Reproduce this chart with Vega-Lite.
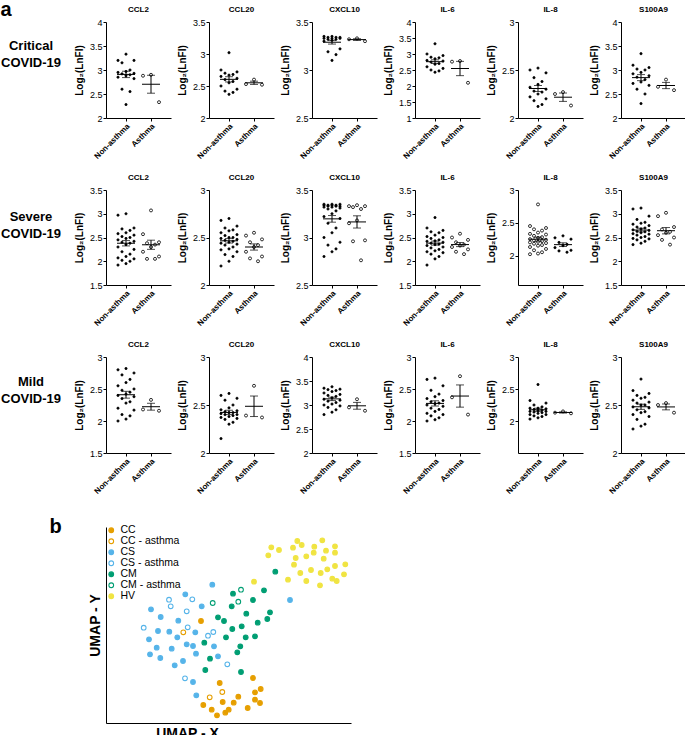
{
"$schema": "https://vega.github.io/schema/vega-lite/v6.json",
"padding": {"left": 0, "top": 0, "right": 0, "bottom": 0},
"datasets": {
"d": [
{"s":"C","c":"CCL2","g":"N","v":3.33},{"s":"C","c":"CCL2","g":"N","v":3.2},{"s":"C","c":"CCL2","g":"N","v":3.2},{"s":"C","c":"CCL2","g":"N","v":3.15},{"s":"C","c":"CCL2","g":"N","v":3.0},{"s":"C","c":"CCL2","g":"N","v":2.97},{"s":"C","c":"CCL2","g":"N","v":2.95},{"s":"C","c":"CCL2","g":"N","v":2.93},{"s":"C","c":"CCL2","g":"N","v":2.92},{"s":"C","c":"CCL2","g":"N","v":2.9},{"s":"C","c":"CCL2","g":"N","v":2.88},{"s":"C","c":"CCL2","g":"N","v":2.85},{"s":"C","c":"CCL2","g":"N","v":2.82},{"s":"C","c":"CCL2","g":"N","v":2.6},{"s":"C","c":"CCL2","g":"N","v":2.55},{"s":"C","c":"CCL2","g":"N","v":2.28},
{"s":"C","c":"CCL2","g":"A","v":2.9},{"s":"C","c":"CCL2","g":"A","v":2.88},{"s":"C","c":"CCL2","g":"A","v":2.33},
{"s":"C","c":"CCL20","g":"N","v":3.02},{"s":"C","c":"CCL20","g":"N","v":2.75},{"s":"C","c":"CCL20","g":"N","v":2.72},{"s":"C","c":"CCL20","g":"N","v":2.7},{"s":"C","c":"CCL20","g":"N","v":2.68},{"s":"C","c":"CCL20","g":"N","v":2.67},{"s":"C","c":"CCL20","g":"N","v":2.65},{"s":"C","c":"CCL20","g":"N","v":2.62},{"s":"C","c":"CCL20","g":"N","v":2.6},{"s":"C","c":"CCL20","g":"N","v":2.57},{"s":"C","c":"CCL20","g":"N","v":2.55},{"s":"C","c":"CCL20","g":"N","v":2.5},{"s":"C","c":"CCL20","g":"N","v":2.45},{"s":"C","c":"CCL20","g":"N","v":2.42},{"s":"C","c":"CCL20","g":"N","v":2.4},{"s":"C","c":"CCL20","g":"N","v":2.37},
{"s":"C","c":"CCL20","g":"A","v":2.6},{"s":"C","c":"CCL20","g":"A","v":2.53},{"s":"C","c":"CCL20","g":"A","v":2.52},
{"s":"C","c":"CXCL10","g":"N","v":3.35},{"s":"C","c":"CXCL10","g":"N","v":3.35},{"s":"C","c":"CXCL10","g":"N","v":3.34},{"s":"C","c":"CXCL10","g":"N","v":3.34},{"s":"C","c":"CXCL10","g":"N","v":3.34},{"s":"C","c":"CXCL10","g":"N","v":3.33},{"s":"C","c":"CXCL10","g":"N","v":3.33},{"s":"C","c":"CXCL10","g":"N","v":3.33},{"s":"C","c":"CXCL10","g":"N","v":3.32},{"s":"C","c":"CXCL10","g":"N","v":3.32},{"s":"C","c":"CXCL10","g":"N","v":3.31},{"s":"C","c":"CXCL10","g":"N","v":3.3},{"s":"C","c":"CXCL10","g":"N","v":3.22},{"s":"C","c":"CXCL10","g":"N","v":3.19},{"s":"C","c":"CXCL10","g":"N","v":3.16},{"s":"C","c":"CXCL10","g":"N","v":3.1},
{"s":"C","c":"CXCL10","g":"A","v":3.33},{"s":"C","c":"CXCL10","g":"A","v":3.32},{"s":"C","c":"CXCL10","g":"A","v":3.3},
{"s":"C","c":"IL-6","g":"N","v":3.32},{"s":"C","c":"IL-6","g":"N","v":3.0},{"s":"C","c":"IL-6","g":"N","v":2.95},{"s":"C","c":"IL-6","g":"N","v":2.9},{"s":"C","c":"IL-6","g":"N","v":2.88},{"s":"C","c":"IL-6","g":"N","v":2.85},{"s":"C","c":"IL-6","g":"N","v":2.8},{"s":"C","c":"IL-6","g":"N","v":2.78},{"s":"C","c":"IL-6","g":"N","v":2.75},{"s":"C","c":"IL-6","g":"N","v":2.7},{"s":"C","c":"IL-6","g":"N","v":2.68},{"s":"C","c":"IL-6","g":"N","v":2.6},{"s":"C","c":"IL-6","g":"N","v":2.55},{"s":"C","c":"IL-6","g":"N","v":2.5},{"s":"C","c":"IL-6","g":"N","v":2.47},{"s":"C","c":"IL-6","g":"N","v":2.43},
{"s":"C","c":"IL-6","g":"A","v":2.78},{"s":"C","c":"IL-6","g":"A","v":2.76},{"s":"C","c":"IL-6","g":"A","v":2.1},
{"s":"C","c":"IL-8","g":"N","v":2.52},{"s":"C","c":"IL-8","g":"N","v":2.5},{"s":"C","c":"IL-8","g":"N","v":2.47},{"s":"C","c":"IL-8","g":"N","v":2.42},{"s":"C","c":"IL-8","g":"N","v":2.38},{"s":"C","c":"IL-8","g":"N","v":2.35},{"s":"C","c":"IL-8","g":"N","v":2.32},{"s":"C","c":"IL-8","g":"N","v":2.3},{"s":"C","c":"IL-8","g":"N","v":2.28},{"s":"C","c":"IL-8","g":"N","v":2.27},{"s":"C","c":"IL-8","g":"N","v":2.25},{"s":"C","c":"IL-8","g":"N","v":2.22},{"s":"C","c":"IL-8","g":"N","v":2.2},{"s":"C","c":"IL-8","g":"N","v":2.18},{"s":"C","c":"IL-8","g":"N","v":2.14},{"s":"C","c":"IL-8","g":"N","v":2.12},
{"s":"C","c":"IL-8","g":"A","v":2.27},{"s":"C","c":"IL-8","g":"A","v":2.25},{"s":"C","c":"IL-8","g":"A","v":2.13},
{"s":"C","c":"S100A9","g":"N","v":3.34},{"s":"C","c":"S100A9","g":"N","v":3.1},{"s":"C","c":"S100A9","g":"N","v":3.05},{"s":"C","c":"S100A9","g":"N","v":3.02},{"s":"C","c":"S100A9","g":"N","v":3.0},{"s":"C","c":"S100A9","g":"N","v":2.95},{"s":"C","c":"S100A9","g":"N","v":2.92},{"s":"C","c":"S100A9","g":"N","v":2.88},{"s":"C","c":"S100A9","g":"N","v":2.85},{"s":"C","c":"S100A9","g":"N","v":2.8},{"s":"C","c":"S100A9","g":"N","v":2.75},{"s":"C","c":"S100A9","g":"N","v":2.72},{"s":"C","c":"S100A9","g":"N","v":2.68},{"s":"C","c":"S100A9","g":"N","v":2.6},{"s":"C","c":"S100A9","g":"N","v":2.5},{"s":"C","c":"S100A9","g":"N","v":2.3},
{"s":"C","c":"S100A9","g":"A","v":2.8},{"s":"C","c":"S100A9","g":"A","v":2.65},{"s":"C","c":"S100A9","g":"A","v":2.58},

{"s":"S","c":"CCL2","g":"N","v":3.0},{"s":"S","c":"CCL2","g":"N","v":2.97},{"s":"S","c":"CCL2","g":"N","v":2.7},{"s":"S","c":"CCL2","g":"N","v":2.68},{"s":"S","c":"CCL2","g":"N","v":2.65},{"s":"S","c":"CCL2","g":"N","v":2.6},{"s":"S","c":"CCL2","g":"N","v":2.58},{"s":"S","c":"CCL2","g":"N","v":2.55},{"s":"S","c":"CCL2","g":"N","v":2.52},{"s":"S","c":"CCL2","g":"N","v":2.5},{"s":"S","c":"CCL2","g":"N","v":2.48},{"s":"S","c":"CCL2","g":"N","v":2.45},{"s":"S","c":"CCL2","g":"N","v":2.42},{"s":"S","c":"CCL2","g":"N","v":2.4},{"s":"S","c":"CCL2","g":"N","v":2.38},{"s":"S","c":"CCL2","g":"N","v":2.35},{"s":"S","c":"CCL2","g":"N","v":2.3},{"s":"S","c":"CCL2","g":"N","v":2.25},{"s":"S","c":"CCL2","g":"N","v":2.2},{"s":"S","c":"CCL2","g":"N","v":2.15},{"s":"S","c":"CCL2","g":"N","v":2.1},{"s":"S","c":"CCL2","g":"N","v":2.07},{"s":"S","c":"CCL2","g":"N","v":2.05},{"s":"S","c":"CCL2","g":"N","v":2.02},{"s":"S","c":"CCL2","g":"N","v":2.0},{"s":"S","c":"CCL2","g":"N","v":1.95},{"s":"S","c":"CCL2","g":"N","v":1.92},
{"s":"S","c":"CCL2","g":"A","v":3.07},{"s":"S","c":"CCL2","g":"A","v":2.57},{"s":"S","c":"CCL2","g":"A","v":2.4},{"s":"S","c":"CCL2","g":"A","v":2.38},{"s":"S","c":"CCL2","g":"A","v":2.35},{"s":"S","c":"CCL2","g":"A","v":2.3},{"s":"S","c":"CCL2","g":"A","v":2.2},{"s":"S","c":"CCL2","g":"A","v":2.1},{"s":"S","c":"CCL2","g":"A","v":2.05},{"s":"S","c":"CCL2","g":"A","v":2.05},
{"s":"S","c":"CCL20","g":"N","v":2.7},{"s":"S","c":"CCL20","g":"N","v":2.68},{"s":"S","c":"CCL20","g":"N","v":2.62},{"s":"S","c":"CCL20","g":"N","v":2.6},{"s":"S","c":"CCL20","g":"N","v":2.58},{"s":"S","c":"CCL20","g":"N","v":2.57},{"s":"S","c":"CCL20","g":"N","v":2.55},{"s":"S","c":"CCL20","g":"N","v":2.53},{"s":"S","c":"CCL20","g":"N","v":2.52},{"s":"S","c":"CCL20","g":"N","v":2.5},{"s":"S","c":"CCL20","g":"N","v":2.5},{"s":"S","c":"CCL20","g":"N","v":2.49},{"s":"S","c":"CCL20","g":"N","v":2.48},{"s":"S","c":"CCL20","g":"N","v":2.47},{"s":"S","c":"CCL20","g":"N","v":2.46},{"s":"S","c":"CCL20","g":"N","v":2.45},{"s":"S","c":"CCL20","g":"N","v":2.44},{"s":"S","c":"CCL20","g":"N","v":2.43},{"s":"S","c":"CCL20","g":"N","v":2.42},{"s":"S","c":"CCL20","g":"N","v":2.4},{"s":"S","c":"CCL20","g":"N","v":2.38},{"s":"S","c":"CCL20","g":"N","v":2.37},{"s":"S","c":"CCL20","g":"N","v":2.35},{"s":"S","c":"CCL20","g":"N","v":2.32},{"s":"S","c":"CCL20","g":"N","v":2.3},{"s":"S","c":"CCL20","g":"N","v":2.25},{"s":"S","c":"CCL20","g":"N","v":2.2},
{"s":"S","c":"CCL20","g":"A","v":2.55},{"s":"S","c":"CCL20","g":"A","v":2.52},{"s":"S","c":"CCL20","g":"A","v":2.48},{"s":"S","c":"CCL20","g":"A","v":2.45},{"s":"S","c":"CCL20","g":"A","v":2.42},{"s":"S","c":"CCL20","g":"A","v":2.4},{"s":"S","c":"CCL20","g":"A","v":2.35},{"s":"S","c":"CCL20","g":"A","v":2.3},{"s":"S","c":"CCL20","g":"A","v":2.28},{"s":"S","c":"CCL20","g":"A","v":2.25},
{"s":"S","c":"CXCL10","g":"N","v":3.35},{"s":"S","c":"CXCL10","g":"N","v":3.35},{"s":"S","c":"CXCL10","g":"N","v":3.35},{"s":"S","c":"CXCL10","g":"N","v":3.34},{"s":"S","c":"CXCL10","g":"N","v":3.34},{"s":"S","c":"CXCL10","g":"N","v":3.34},{"s":"S","c":"CXCL10","g":"N","v":3.34},{"s":"S","c":"CXCL10","g":"N","v":3.33},{"s":"S","c":"CXCL10","g":"N","v":3.33},{"s":"S","c":"CXCL10","g":"N","v":3.33},{"s":"S","c":"CXCL10","g":"N","v":3.32},{"s":"S","c":"CXCL10","g":"N","v":3.32},{"s":"S","c":"CXCL10","g":"N","v":3.31},{"s":"S","c":"CXCL10","g":"N","v":3.3},{"s":"S","c":"CXCL10","g":"N","v":3.28},{"s":"S","c":"CXCL10","g":"N","v":3.25},{"s":"S","c":"CXCL10","g":"N","v":3.22},{"s":"S","c":"CXCL10","g":"N","v":3.2},{"s":"S","c":"CXCL10","g":"N","v":3.15},{"s":"S","c":"CXCL10","g":"N","v":3.1},{"s":"S","c":"CXCL10","g":"N","v":3.05},{"s":"S","c":"CXCL10","g":"N","v":3.0},{"s":"S","c":"CXCL10","g":"N","v":2.95},{"s":"S","c":"CXCL10","g":"N","v":2.92},{"s":"S","c":"CXCL10","g":"N","v":2.88},{"s":"S","c":"CXCL10","g":"N","v":2.85},{"s":"S","c":"CXCL10","g":"N","v":2.8},
{"s":"S","c":"CXCL10","g":"A","v":3.34},{"s":"S","c":"CXCL10","g":"A","v":3.33},{"s":"S","c":"CXCL10","g":"A","v":3.33},{"s":"S","c":"CXCL10","g":"A","v":3.32},{"s":"S","c":"CXCL10","g":"A","v":3.3},{"s":"S","c":"CXCL10","g":"A","v":3.18},{"s":"S","c":"CXCL10","g":"A","v":3.15},{"s":"S","c":"CXCL10","g":"A","v":2.97},{"s":"S","c":"CXCL10","g":"A","v":2.96},{"s":"S","c":"CXCL10","g":"A","v":2.76},
{"s":"S","c":"IL-6","g":"N","v":2.92},{"s":"S","c":"IL-6","g":"N","v":2.7},{"s":"S","c":"IL-6","g":"N","v":2.65},{"s":"S","c":"IL-6","g":"N","v":2.62},{"s":"S","c":"IL-6","g":"N","v":2.6},{"s":"S","c":"IL-6","g":"N","v":2.55},{"s":"S","c":"IL-6","g":"N","v":2.52},{"s":"S","c":"IL-6","g":"N","v":2.5},{"s":"S","c":"IL-6","g":"N","v":2.48},{"s":"S","c":"IL-6","g":"N","v":2.45},{"s":"S","c":"IL-6","g":"N","v":2.43},{"s":"S","c":"IL-6","g":"N","v":2.42},{"s":"S","c":"IL-6","g":"N","v":2.4},{"s":"S","c":"IL-6","g":"N","v":2.38},{"s":"S","c":"IL-6","g":"N","v":2.36},{"s":"S","c":"IL-6","g":"N","v":2.35},{"s":"S","c":"IL-6","g":"N","v":2.33},{"s":"S","c":"IL-6","g":"N","v":2.3},{"s":"S","c":"IL-6","g":"N","v":2.28},{"s":"S","c":"IL-6","g":"N","v":2.25},{"s":"S","c":"IL-6","g":"N","v":2.22},{"s":"S","c":"IL-6","g":"N","v":2.2},{"s":"S","c":"IL-6","g":"N","v":2.18},{"s":"S","c":"IL-6","g":"N","v":2.15},{"s":"S","c":"IL-6","g":"N","v":2.1},{"s":"S","c":"IL-6","g":"N","v":2.05},{"s":"S","c":"IL-6","g":"N","v":1.92},
{"s":"S","c":"IL-6","g":"A","v":2.58},{"s":"S","c":"IL-6","g":"A","v":2.5},{"s":"S","c":"IL-6","g":"A","v":2.45},{"s":"S","c":"IL-6","g":"A","v":2.4},{"s":"S","c":"IL-6","g":"A","v":2.35},{"s":"S","c":"IL-6","g":"A","v":2.33},{"s":"S","c":"IL-6","g":"A","v":2.3},{"s":"S","c":"IL-6","g":"A","v":2.25},{"s":"S","c":"IL-6","g":"A","v":2.2},{"s":"S","c":"IL-6","g":"A","v":2.15},
{"s":"S","c":"IL-8","g":"N","v":2.78},{"s":"S","c":"IL-8","g":"N","v":2.45},{"s":"S","c":"IL-8","g":"N","v":2.42},{"s":"S","c":"IL-8","g":"N","v":2.4},{"s":"S","c":"IL-8","g":"N","v":2.38},{"s":"S","c":"IL-8","g":"N","v":2.35},{"s":"S","c":"IL-8","g":"N","v":2.33},{"s":"S","c":"IL-8","g":"N","v":2.32},{"s":"S","c":"IL-8","g":"N","v":2.3},{"s":"S","c":"IL-8","g":"N","v":2.28},{"s":"S","c":"IL-8","g":"N","v":2.27},{"s":"S","c":"IL-8","g":"N","v":2.25},{"s":"S","c":"IL-8","g":"N","v":2.24},{"s":"S","c":"IL-8","g":"N","v":2.23},{"s":"S","c":"IL-8","g":"N","v":2.22},{"s":"S","c":"IL-8","g":"N","v":2.21},{"s":"S","c":"IL-8","g":"N","v":2.2},{"s":"S","c":"IL-8","g":"N","v":2.19},{"s":"S","c":"IL-8","g":"N","v":2.18},{"s":"S","c":"IL-8","g":"N","v":2.16},{"s":"S","c":"IL-8","g":"N","v":2.15},{"s":"S","c":"IL-8","g":"N","v":2.13},{"s":"S","c":"IL-8","g":"N","v":2.1},{"s":"S","c":"IL-8","g":"N","v":2.08},{"s":"S","c":"IL-8","g":"N","v":2.05},{"s":"S","c":"IL-8","g":"N","v":2.03},{"s":"S","c":"IL-8","g":"N","v":2.02},
{"s":"S","c":"IL-8","g":"A","v":2.3},{"s":"S","c":"IL-8","g":"A","v":2.27},{"s":"S","c":"IL-8","g":"A","v":2.25},{"s":"S","c":"IL-8","g":"A","v":2.2},{"s":"S","c":"IL-8","g":"A","v":2.17},{"s":"S","c":"IL-8","g":"A","v":2.15},{"s":"S","c":"IL-8","g":"A","v":2.12},{"s":"S","c":"IL-8","g":"A","v":2.08},{"s":"S","c":"IL-8","g":"A","v":2.07},{"s":"S","c":"IL-8","g":"A","v":2.05},
{"s":"S","c":"S100A9","g":"N","v":3.12},{"s":"S","c":"S100A9","g":"N","v":3.1},{"s":"S","c":"S100A9","g":"N","v":2.95},{"s":"S","c":"S100A9","g":"N","v":2.88},{"s":"S","c":"S100A9","g":"N","v":2.82},{"s":"S","c":"S100A9","g":"N","v":2.8},{"s":"S","c":"S100A9","g":"N","v":2.78},{"s":"S","c":"S100A9","g":"N","v":2.75},{"s":"S","c":"S100A9","g":"N","v":2.72},{"s":"S","c":"S100A9","g":"N","v":2.7},{"s":"S","c":"S100A9","g":"N","v":2.68},{"s":"S","c":"S100A9","g":"N","v":2.66},{"s":"S","c":"S100A9","g":"N","v":2.65},{"s":"S","c":"S100A9","g":"N","v":2.63},{"s":"S","c":"S100A9","g":"N","v":2.62},{"s":"S","c":"S100A9","g":"N","v":2.6},{"s":"S","c":"S100A9","g":"N","v":2.58},{"s":"S","c":"S100A9","g":"N","v":2.57},{"s":"S","c":"S100A9","g":"N","v":2.55},{"s":"S","c":"S100A9","g":"N","v":2.52},{"s":"S","c":"S100A9","g":"N","v":2.5},{"s":"S","c":"S100A9","g":"N","v":2.48},{"s":"S","c":"S100A9","g":"N","v":2.47},{"s":"S","c":"S100A9","g":"N","v":2.45},{"s":"S","c":"S100A9","g":"N","v":2.42},{"s":"S","c":"S100A9","g":"N","v":2.38},{"s":"S","c":"S100A9","g":"N","v":2.35},
{"s":"S","c":"S100A9","g":"A","v":3.02},{"s":"S","c":"S100A9","g":"A","v":2.95},{"s":"S","c":"S100A9","g":"A","v":2.72},{"s":"S","c":"S100A9","g":"A","v":2.67},{"s":"S","c":"S100A9","g":"A","v":2.62},{"s":"S","c":"S100A9","g":"A","v":2.6},{"s":"S","c":"S100A9","g":"A","v":2.55},{"s":"S","c":"S100A9","g":"A","v":2.5},{"s":"S","c":"S100A9","g":"A","v":2.45},{"s":"S","c":"S100A9","g":"A","v":2.35},

{"s":"M","c":"CCL2","g":"N","v":2.82},{"s":"M","c":"CCL2","g":"N","v":2.8},{"s":"M","c":"CCL2","g":"N","v":2.75},{"s":"M","c":"CCL2","g":"N","v":2.72},{"s":"M","c":"CCL2","g":"N","v":2.65},{"s":"M","c":"CCL2","g":"N","v":2.6},{"s":"M","c":"CCL2","g":"N","v":2.55},{"s":"M","c":"CCL2","g":"N","v":2.5},{"s":"M","c":"CCL2","g":"N","v":2.48},{"s":"M","c":"CCL2","g":"N","v":2.45},{"s":"M","c":"CCL2","g":"N","v":2.42},{"s":"M","c":"CCL2","g":"N","v":2.4},{"s":"M","c":"CCL2","g":"N","v":2.38},{"s":"M","c":"CCL2","g":"N","v":2.35},{"s":"M","c":"CCL2","g":"N","v":2.3},{"s":"M","c":"CCL2","g":"N","v":2.28},{"s":"M","c":"CCL2","g":"N","v":2.2},{"s":"M","c":"CCL2","g":"N","v":2.17},{"s":"M","c":"CCL2","g":"N","v":2.1},{"s":"M","c":"CCL2","g":"N","v":2.08},{"s":"M","c":"CCL2","g":"N","v":2.03},{"s":"M","c":"CCL2","g":"N","v":2.0},
{"s":"M","c":"CCL2","g":"A","v":2.33},{"s":"M","c":"CCL2","g":"A","v":2.18},{"s":"M","c":"CCL2","g":"A","v":2.16},
{"s":"M","c":"CCL20","g":"N","v":2.62},{"s":"M","c":"CCL20","g":"N","v":2.6},{"s":"M","c":"CCL20","g":"N","v":2.57},{"s":"M","c":"CCL20","g":"N","v":2.55},{"s":"M","c":"CCL20","g":"N","v":2.5},{"s":"M","c":"CCL20","g":"N","v":2.47},{"s":"M","c":"CCL20","g":"N","v":2.45},{"s":"M","c":"CCL20","g":"N","v":2.44},{"s":"M","c":"CCL20","g":"N","v":2.43},{"s":"M","c":"CCL20","g":"N","v":2.42},{"s":"M","c":"CCL20","g":"N","v":2.42},{"s":"M","c":"CCL20","g":"N","v":2.41},{"s":"M","c":"CCL20","g":"N","v":2.4},{"s":"M","c":"CCL20","g":"N","v":2.4},{"s":"M","c":"CCL20","g":"N","v":2.39},{"s":"M","c":"CCL20","g":"N","v":2.38},{"s":"M","c":"CCL20","g":"N","v":2.37},{"s":"M","c":"CCL20","g":"N","v":2.36},{"s":"M","c":"CCL20","g":"N","v":2.35},{"s":"M","c":"CCL20","g":"N","v":2.32},{"s":"M","c":"CCL20","g":"N","v":2.3},{"s":"M","c":"CCL20","g":"N","v":2.15},
{"s":"M","c":"CCL20","g":"A","v":2.7},{"s":"M","c":"CCL20","g":"A","v":2.39},{"s":"M","c":"CCL20","g":"A","v":2.37},
{"s":"M","c":"CXCL10","g":"N","v":3.38},{"s":"M","c":"CXCL10","g":"N","v":3.35},{"s":"M","c":"CXCL10","g":"N","v":3.33},{"s":"M","c":"CXCL10","g":"N","v":3.32},{"s":"M","c":"CXCL10","g":"N","v":3.3},{"s":"M","c":"CXCL10","g":"N","v":3.28},{"s":"M","c":"CXCL10","g":"N","v":3.25},{"s":"M","c":"CXCL10","g":"N","v":3.22},{"s":"M","c":"CXCL10","g":"N","v":3.2},{"s":"M","c":"CXCL10","g":"N","v":3.18},{"s":"M","c":"CXCL10","g":"N","v":3.15},{"s":"M","c":"CXCL10","g":"N","v":3.12},{"s":"M","c":"CXCL10","g":"N","v":3.1},{"s":"M","c":"CXCL10","g":"N","v":3.08},{"s":"M","c":"CXCL10","g":"N","v":3.05},{"s":"M","c":"CXCL10","g":"N","v":3.02},{"s":"M","c":"CXCL10","g":"N","v":3.0},{"s":"M","c":"CXCL10","g":"N","v":2.98},{"s":"M","c":"CXCL10","g":"N","v":2.95},{"s":"M","c":"CXCL10","g":"N","v":2.9},{"s":"M","c":"CXCL10","g":"N","v":2.85},{"s":"M","c":"CXCL10","g":"N","v":2.8},
{"s":"M","c":"CXCL10","g":"A","v":3.12},{"s":"M","c":"CXCL10","g":"A","v":2.95},{"s":"M","c":"CXCL10","g":"A","v":2.88},
{"s":"M","c":"IL-6","g":"N","v":2.67},{"s":"M","c":"IL-6","g":"N","v":2.65},{"s":"M","c":"IL-6","g":"N","v":2.55},{"s":"M","c":"IL-6","g":"N","v":2.48},{"s":"M","c":"IL-6","g":"N","v":2.42},{"s":"M","c":"IL-6","g":"N","v":2.38},{"s":"M","c":"IL-6","g":"N","v":2.35},{"s":"M","c":"IL-6","g":"N","v":2.32},{"s":"M","c":"IL-6","g":"N","v":2.3},{"s":"M","c":"IL-6","g":"N","v":2.28},{"s":"M","c":"IL-6","g":"N","v":2.27},{"s":"M","c":"IL-6","g":"N","v":2.25},{"s":"M","c":"IL-6","g":"N","v":2.23},{"s":"M","c":"IL-6","g":"N","v":2.2},{"s":"M","c":"IL-6","g":"N","v":2.18},{"s":"M","c":"IL-6","g":"N","v":2.15},{"s":"M","c":"IL-6","g":"N","v":2.12},{"s":"M","c":"IL-6","g":"N","v":2.1},{"s":"M","c":"IL-6","g":"N","v":2.08},{"s":"M","c":"IL-6","g":"N","v":2.05},{"s":"M","c":"IL-6","g":"N","v":2.02},{"s":"M","c":"IL-6","g":"N","v":2.0},
{"s":"M","c":"IL-6","g":"A","v":2.7},{"s":"M","c":"IL-6","g":"A","v":2.37},{"s":"M","c":"IL-6","g":"A","v":2.1},
{"s":"M","c":"IL-8","g":"N","v":2.57},{"s":"M","c":"IL-8","g":"N","v":2.32},{"s":"M","c":"IL-8","g":"N","v":2.28},{"s":"M","c":"IL-8","g":"N","v":2.25},{"s":"M","c":"IL-8","g":"N","v":2.22},{"s":"M","c":"IL-8","g":"N","v":2.2},{"s":"M","c":"IL-8","g":"N","v":2.2},{"s":"M","c":"IL-8","g":"N","v":2.19},{"s":"M","c":"IL-8","g":"N","v":2.18},{"s":"M","c":"IL-8","g":"N","v":2.17},{"s":"M","c":"IL-8","g":"N","v":2.16},{"s":"M","c":"IL-8","g":"N","v":2.15},{"s":"M","c":"IL-8","g":"N","v":2.15},{"s":"M","c":"IL-8","g":"N","v":2.14},{"s":"M","c":"IL-8","g":"N","v":2.13},{"s":"M","c":"IL-8","g":"N","v":2.12},{"s":"M","c":"IL-8","g":"N","v":2.1},{"s":"M","c":"IL-8","g":"N","v":2.1},{"s":"M","c":"IL-8","g":"N","v":2.08},{"s":"M","c":"IL-8","g":"N","v":2.07},{"s":"M","c":"IL-8","g":"N","v":2.05},{"s":"M","c":"IL-8","g":"N","v":2.03},
{"s":"M","c":"IL-8","g":"A","v":2.15},{"s":"M","c":"IL-8","g":"A","v":2.13},{"s":"M","c":"IL-8","g":"A","v":2.12},
{"s":"M","c":"S100A9","g":"N","v":2.77},{"s":"M","c":"S100A9","g":"N","v":2.65},{"s":"M","c":"S100A9","g":"N","v":2.62},{"s":"M","c":"S100A9","g":"N","v":2.6},{"s":"M","c":"S100A9","g":"N","v":2.58},{"s":"M","c":"S100A9","g":"N","v":2.57},{"s":"M","c":"S100A9","g":"N","v":2.55},{"s":"M","c":"S100A9","g":"N","v":2.53},{"s":"M","c":"S100A9","g":"N","v":2.52},{"s":"M","c":"S100A9","g":"N","v":2.5},{"s":"M","c":"S100A9","g":"N","v":2.5},{"s":"M","c":"S100A9","g":"N","v":2.48},{"s":"M","c":"S100A9","g":"N","v":2.47},{"s":"M","c":"S100A9","g":"N","v":2.45},{"s":"M","c":"S100A9","g":"N","v":2.43},{"s":"M","c":"S100A9","g":"N","v":2.42},{"s":"M","c":"S100A9","g":"N","v":2.4},{"s":"M","c":"S100A9","g":"N","v":2.38},{"s":"M","c":"S100A9","g":"N","v":2.35},{"s":"M","c":"S100A9","g":"N","v":2.3},{"s":"M","c":"S100A9","g":"N","v":2.28},{"s":"M","c":"S100A9","g":"N","v":2.25},
{"s":"M","c":"S100A9","g":"A","v":2.52},{"s":"M","c":"S100A9","g":"A","v":2.5},{"s":"M","c":"S100A9","g":"A","v":2.42}
],
"u": [
{"k":"CS","x":10.63,"y":13.83},{"k":"CS","x":7.93,"y":12.87},{"k":"CS","x":9.57,"y":11.67},{"k":"CS","x":4.5,"y":11.37},{"k":"CS","x":5.47,"y":10.6},{"k":"CS","x":7.23,"y":10.23},{"k":"CS","x":5.2,"y":9.2},{"k":"CS","x":6.33,"y":9.13},{"k":"CS","x":7.13,"y":8.57},{"k":"CS","x":8.93,"y":9.07},{"k":"CS","x":4.3,"y":8.37},{"k":"CS","x":8.07,"y":7.87},{"k":"CS","x":8.7,"y":7.7},{"k":"CS","x":10.8,"y":7.67},{"k":"CS","x":5.07,"y":7.53},{"k":"CS","x":6.57,"y":7.43},{"k":"CS","x":4.4,"y":6.87},{"k":"CS","x":5.43,"y":6.5},{"k":"CS","x":9.0,"y":6.93},{"k":"CS","x":11.2,"y":6.67},{"k":"CS","x":7.7,"y":6.2},{"k":"CS","x":6.87,"y":5.77},{"k":"CS","x":8.7,"y":4.1},{"k":"CS","x":9.03,"y":2.77},{"k":"CS","x":18.4,"y":12.3},
{"k":"CS - asthma","x":6.3,"y":12.33},{"k":"CS - asthma","x":6.47,"y":11.67},{"k":"CS - asthma","x":8.63,"y":12.37},{"k":"CS - asthma","x":8.07,"y":11.17},{"k":"CS - asthma","x":3.77,"y":9.53},{"k":"CS - asthma","x":8.17,"y":9.57},{"k":"CS - asthma","x":10.2,"y":8.73},{"k":"CS - asthma","x":10.73,"y":9.1},{"k":"CS - asthma","x":12.13,"y":5.87},{"k":"CS - asthma","x":7.9,"y":4.47},
{"k":"CC","x":9.5,"y":10.2},{"k":"CC","x":11.37,"y":4.0},{"k":"CC","x":14.7,"y":4.5},{"k":"CC","x":15.47,"y":3.4},{"k":"CC","x":14.9,"y":3.07},{"k":"CC","x":13.23,"y":2.63},{"k":"CC","x":14.9,"y":2.33},{"k":"CC","x":15.4,"y":2.0},{"k":"CC","x":11.67,"y":2.1},{"k":"CC","x":12.77,"y":2.03},{"k":"CC","x":9.73,"y":1.8},{"k":"CC","x":10.57,"y":1.33},{"k":"CC","x":11.93,"y":1.03},{"k":"CC","x":12.27,"y":1.33},{"k":"CC","x":11.1,"y":0.77},{"k":"CC","x":14.17,"y":1.5},
{"k":"CC - asthma","x":7.73,"y":9.07},{"k":"CC - asthma","x":11.63,"y":3.1},{"k":"CC - asthma","x":10.37,"y":2.57},
{"k":"CM","x":12.7,"y":12.93},{"k":"CM","x":15.8,"y":13.27},{"k":"CM","x":14.7,"y":12.3},{"k":"CM","x":12.57,"y":11.67},{"k":"CM","x":11.2,"y":10.57},{"k":"CM","x":11.8,"y":10.2},{"k":"CM","x":14.03,"y":10.93},{"k":"CM","x":16.4,"y":11.07},{"k":"CM","x":16.13,"y":10.4},{"k":"CM","x":15.17,"y":10.03},{"k":"CM","x":13.57,"y":9.67},{"k":"CM","x":12.63,"y":9.4},{"k":"CM","x":12.0,"y":8.57},{"k":"CM","x":13.97,"y":8.57},{"k":"CM","x":14.9,"y":8.67},{"k":"CM","x":9.83,"y":8.03},{"k":"CM","x":13.43,"y":7.67},{"k":"CM","x":13.13,"y":7.07},{"k":"CM","x":10.4,"y":6.43},{"k":"CM","x":9.93,"y":5.3},{"k":"CM","x":13.5,"y":5.1},{"k":"CM","x":16.93,"y":15.13},
{"k":"CM - asthma","x":13.5,"y":13.33},{"k":"CM - asthma","x":13.23,"y":12.13},{"k":"CM - asthma","x":10.67,"y":12.0},
{"k":"HV","x":16.53,"y":17.57},{"k":"HV","x":17.3,"y":17.3},{"k":"HV","x":16.23,"y":16.77},{"k":"HV","x":19.13,"y":18.2},{"k":"HV","x":19.57,"y":17.8},{"k":"HV","x":18.7,"y":17.53},{"k":"HV","x":20.83,"y":17.63},{"k":"HV","x":21.63,"y":18.27},{"k":"HV","x":22.9,"y":17.67},{"k":"HV","x":22.0,"y":17.23},{"k":"HV","x":20.77,"y":17.03},{"k":"HV","x":22.9,"y":17.03},{"k":"HV","x":18.97,"y":16.5},{"k":"HV","x":20.03,"y":16.67},{"k":"HV","x":21.77,"y":16.43},{"k":"HV","x":18.8,"y":15.83},{"k":"HV","x":23.93,"y":15.87},{"k":"HV","x":20.5,"y":15.3},{"k":"HV","x":22.13,"y":15.37},{"k":"HV","x":22.9,"y":15.7},{"k":"HV","x":19.43,"y":15.0},{"k":"HV","x":21.47,"y":15.0},{"k":"HV","x":23.8,"y":14.87},{"k":"HV","x":18.2,"y":14.33},{"k":"HV","x":20.03,"y":14.2},{"k":"HV","x":22.63,"y":14.43},{"k":"HV","x":23.07,"y":14.2},{"k":"HV","x":21.4,"y":13.77},{"k":"HV","x":14.8,"y":14.13}
]
},
"data": {"name": "d"},
"spacing": 21,
"resolve": {"scale": {"fill": "independent", "stroke": "independent"}, "legend": {"fill": "independent", "stroke": "independent"}},
"vconcat": [
{"columns": 7, "bounds": "flush", "spacing": {"row": 72, "column": 38}, "concat": [
 {"width": 50, "height": 96, "data": {"values": [{"t": "Critical\nCOVID-19"}]}, "layer": [
  {"mark": {"type": "text", "fontSize": 13, "fontWeight": "bold", "lineBreak": "\n", "lineHeight": 17, "dx": -12, "dy": -24}, "encoding": {"text": {"field": "t"}}},
  {"data": {"values": [{"t": "a"}]}, "mark": {"type": "text", "fontSize": 20, "fontWeight": "bold", "dx": -37, "dy": -60}, "encoding": {"text": {"field": "t"}}}
 ]},
 {"width": 65, "height": 96, "title": "CCL2", "transform": [{"filter": "datum.s=='C'&&datum.c=='CCL2'"}], "encoding": {"x": {"field": "g", "type": "nominal", "scale": {"type": "band", "domain": ["N","A"], "paddingInner": 0.2, "paddingOuter": 0.4}, "axis": {"title": null, "labelExpr": "datum.value=='N'?'Non-asthma':'Asthma'"}}, "y": {"field": "v", "type": "quantitative", "scale": {"domain": [2,4], "nice": false, "zero": false}, "axis": {"values": [2,2.5,3,3.5,4], "format": "~g", "title": "Log₂(LnFI)"}}}, "layer": [
  {"transform": [{"window": [{"op": "row_number", "as": "r"}], "groupby": ["g"], "sort": [{"field": "v", "order": "descending"}]}, {"calculate": "[0,-0.8,0.8,-0.4,0.4][(datum.r-1)%5]", "as": "jx"}], "mark": {"type": "circle", "stroke": "black", "strokeWidth": 0.8, "opacity": 1}, "encoding": {"xOffset": {"field": "jx", "type": "quantitative", "scale": {"domain": [-1,1]}}, "fill": {"condition": {"test": "datum.g=='A'", "value": "white"}, "value": "black"}, "size": {"condition": {"test": "datum.g=='A'", "value": 9}, "value": 5}}},
  {"mark": {"type": "errorbar", "extent": "stderr", "color": "black", "ticks": {"size": 8}}},
  {"mark": {"type": "tick", "orient": "horizontal", "size": 18, "thickness": 1, "color": "black"}, "encoding": {"y": {"aggregate": "mean", "field": "v", "type": "quantitative", "title": "Log₂(LnFI)"}}}
 ]},
 {"width": 65, "height": 96, "title": "CCL20", "transform": [{"filter": "datum.s=='C'&&datum.c=='CCL20'"}], "encoding": {"x": {"field": "g", "type": "nominal", "scale": {"type": "band", "domain": ["N","A"], "paddingInner": 0.2, "paddingOuter": 0.4}, "axis": {"title": null, "labelExpr": "datum.value=='N'?'Non-asthma':'Asthma'"}}, "y": {"field": "v", "type": "quantitative", "scale": {"domain": [2,3.5], "nice": false, "zero": false}, "axis": {"values": [2,2.5,3,3.5], "format": "~g", "title": "Log₂(LnFI)"}}}, "layer": [
  {"transform": [{"window": [{"op": "row_number", "as": "r"}], "groupby": ["g"], "sort": [{"field": "v", "order": "descending"}]}, {"calculate": "[0,-0.8,0.8,-0.4,0.4][(datum.r-1)%5]", "as": "jx"}], "mark": {"type": "circle", "stroke": "black", "strokeWidth": 0.8, "opacity": 1}, "encoding": {"xOffset": {"field": "jx", "type": "quantitative", "scale": {"domain": [-1,1]}}, "fill": {"condition": {"test": "datum.g=='A'", "value": "white"}, "value": "black"}, "size": {"condition": {"test": "datum.g=='A'", "value": 9}, "value": 5}}},
  {"mark": {"type": "errorbar", "extent": "stderr", "color": "black", "ticks": {"size": 8}}},
  {"mark": {"type": "tick", "orient": "horizontal", "size": 18, "thickness": 1, "color": "black"}, "encoding": {"y": {"aggregate": "mean", "field": "v", "type": "quantitative", "title": "Log₂(LnFI)"}}}
 ]},
 {"width": 65, "height": 96, "title": "CXCL10", "transform": [{"filter": "datum.s=='C'&&datum.c=='CXCL10'"}], "encoding": {"x": {"field": "g", "type": "nominal", "scale": {"type": "band", "domain": ["N","A"], "paddingInner": 0.2, "paddingOuter": 0.4}, "axis": {"title": null, "labelExpr": "datum.value=='N'?'Non-asthma':'Asthma'"}}, "y": {"field": "v", "type": "quantitative", "scale": {"domain": [2.5,3.5], "nice": false, "zero": false}, "axis": {"values": [2.5,3,3.5], "format": "~g", "title": "Log₂(LnFI)"}}}, "layer": [
  {"transform": [{"window": [{"op": "row_number", "as": "r"}], "groupby": ["g"], "sort": [{"field": "v", "order": "descending"}]}, {"calculate": "[0,-0.8,0.8,-0.4,0.4][(datum.r-1)%5]", "as": "jx"}], "mark": {"type": "circle", "stroke": "black", "strokeWidth": 0.8, "opacity": 1}, "encoding": {"xOffset": {"field": "jx", "type": "quantitative", "scale": {"domain": [-1,1]}}, "fill": {"condition": {"test": "datum.g=='A'", "value": "white"}, "value": "black"}, "size": {"condition": {"test": "datum.g=='A'", "value": 9}, "value": 5}}},
  {"mark": {"type": "errorbar", "extent": "stderr", "color": "black", "ticks": {"size": 8}}},
  {"mark": {"type": "tick", "orient": "horizontal", "size": 18, "thickness": 1, "color": "black"}, "encoding": {"y": {"aggregate": "mean", "field": "v", "type": "quantitative", "title": "Log₂(LnFI)"}}}
 ]},
 {"width": 65, "height": 96, "title": "IL-6", "transform": [{"filter": "datum.s=='C'&&datum.c=='IL-6'"}], "encoding": {"x": {"field": "g", "type": "nominal", "scale": {"type": "band", "domain": ["N","A"], "paddingInner": 0.2, "paddingOuter": 0.4}, "axis": {"title": null, "labelExpr": "datum.value=='N'?'Non-asthma':'Asthma'"}}, "y": {"field": "v", "type": "quantitative", "scale": {"domain": [1,4], "nice": false, "zero": false}, "axis": {"values": [1,1.5,2,2.5,3,3.5,4], "format": "~g", "title": "Log₂(LnFI)"}}}, "layer": [
  {"transform": [{"window": [{"op": "row_number", "as": "r"}], "groupby": ["g"], "sort": [{"field": "v", "order": "descending"}]}, {"calculate": "[0,-0.8,0.8,-0.4,0.4][(datum.r-1)%5]", "as": "jx"}], "mark": {"type": "circle", "stroke": "black", "strokeWidth": 0.8, "opacity": 1}, "encoding": {"xOffset": {"field": "jx", "type": "quantitative", "scale": {"domain": [-1,1]}}, "fill": {"condition": {"test": "datum.g=='A'", "value": "white"}, "value": "black"}, "size": {"condition": {"test": "datum.g=='A'", "value": 9}, "value": 5}}},
  {"mark": {"type": "errorbar", "extent": "stderr", "color": "black", "ticks": {"size": 8}}},
  {"mark": {"type": "tick", "orient": "horizontal", "size": 18, "thickness": 1, "color": "black"}, "encoding": {"y": {"aggregate": "mean", "field": "v", "type": "quantitative", "title": "Log₂(LnFI)"}}}
 ]},
 {"width": 65, "height": 96, "title": "IL-8", "transform": [{"filter": "datum.s=='C'&&datum.c=='IL-8'"}], "encoding": {"x": {"field": "g", "type": "nominal", "scale": {"type": "band", "domain": ["N","A"], "paddingInner": 0.2, "paddingOuter": 0.4}, "axis": {"title": null, "labelExpr": "datum.value=='N'?'Non-asthma':'Asthma'"}}, "y": {"field": "v", "type": "quantitative", "scale": {"domain": [2,3], "nice": false, "zero": false}, "axis": {"values": [2,2.5,3], "format": "~g", "title": "Log₂(LnFI)"}}}, "layer": [
  {"transform": [{"window": [{"op": "row_number", "as": "r"}], "groupby": ["g"], "sort": [{"field": "v", "order": "descending"}]}, {"calculate": "[0,-0.8,0.8,-0.4,0.4][(datum.r-1)%5]", "as": "jx"}], "mark": {"type": "circle", "stroke": "black", "strokeWidth": 0.8, "opacity": 1}, "encoding": {"xOffset": {"field": "jx", "type": "quantitative", "scale": {"domain": [-1,1]}}, "fill": {"condition": {"test": "datum.g=='A'", "value": "white"}, "value": "black"}, "size": {"condition": {"test": "datum.g=='A'", "value": 9}, "value": 5}}},
  {"mark": {"type": "errorbar", "extent": "stderr", "color": "black", "ticks": {"size": 8}}},
  {"mark": {"type": "tick", "orient": "horizontal", "size": 18, "thickness": 1, "color": "black"}, "encoding": {"y": {"aggregate": "mean", "field": "v", "type": "quantitative", "title": "Log₂(LnFI)"}}}
 ]},
 {"width": 65, "height": 96, "title": "S100A9", "transform": [{"filter": "datum.s=='C'&&datum.c=='S100A9'"}], "encoding": {"x": {"field": "g", "type": "nominal", "scale": {"type": "band", "domain": ["N","A"], "paddingInner": 0.2, "paddingOuter": 0.4}, "axis": {"title": null, "labelExpr": "datum.value=='N'?'Non-asthma':'Asthma'"}}, "y": {"field": "v", "type": "quantitative", "scale": {"domain": [2,4], "nice": false, "zero": false}, "axis": {"values": [2,2.5,3,3.5,4], "format": "~g", "title": "Log₂(LnFI)"}}}, "layer": [
  {"transform": [{"window": [{"op": "row_number", "as": "r"}], "groupby": ["g"], "sort": [{"field": "v", "order": "descending"}]}, {"calculate": "[0,-0.8,0.8,-0.4,0.4][(datum.r-1)%5]", "as": "jx"}], "mark": {"type": "circle", "stroke": "black", "strokeWidth": 0.8, "opacity": 1}, "encoding": {"xOffset": {"field": "jx", "type": "quantitative", "scale": {"domain": [-1,1]}}, "fill": {"condition": {"test": "datum.g=='A'", "value": "white"}, "value": "black"}, "size": {"condition": {"test": "datum.g=='A'", "value": 9}, "value": 5}}},
  {"mark": {"type": "errorbar", "extent": "stderr", "color": "black", "ticks": {"size": 8}}},
  {"mark": {"type": "tick", "orient": "horizontal", "size": 18, "thickness": 1, "color": "black"}, "encoding": {"y": {"aggregate": "mean", "field": "v", "type": "quantitative", "title": "Log₂(LnFI)"}}}
 ]},

 {"width": 50, "height": 95, "data": {"values": [{"t": "Severe\nCOVID-19"}]}, "mark": {"type": "text", "fontSize": 13, "fontWeight": "bold", "lineBreak": "\n", "lineHeight": 17, "dx": -12, "dy": -21}, "encoding": {"text": {"field": "t"}}},
 {"width": 65, "height": 95, "title": "CCL2", "transform": [{"filter": "datum.s=='S'&&datum.c=='CCL2'"}], "encoding": {"x": {"field": "g", "type": "nominal", "scale": {"type": "band", "domain": ["N","A"], "paddingInner": 0.2, "paddingOuter": 0.4}, "axis": {"title": null, "labelExpr": "datum.value=='N'?'Non-asthma':'Asthma'"}}, "y": {"field": "v", "type": "quantitative", "scale": {"domain": [1.5,3.5], "nice": false, "zero": false}, "axis": {"values": [1.5,2,2.5,3,3.5], "format": "~g", "title": "Log₂(LnFI)"}}}, "layer": [
  {"transform": [{"window": [{"op": "row_number", "as": "r"}], "groupby": ["g"], "sort": [{"field": "v", "order": "descending"}]}, {"calculate": "[0,-0.8,0.8,-0.4,0.4][(datum.r-1)%5]", "as": "jx"}], "mark": {"type": "circle", "stroke": "black", "strokeWidth": 0.8, "opacity": 1}, "encoding": {"xOffset": {"field": "jx", "type": "quantitative", "scale": {"domain": [-1,1]}}, "fill": {"condition": {"test": "datum.g=='A'", "value": "white"}, "value": "black"}, "size": {"condition": {"test": "datum.g=='A'", "value": 9}, "value": 5}}},
  {"mark": {"type": "errorbar", "extent": "stderr", "color": "black", "ticks": {"size": 8}}},
  {"mark": {"type": "tick", "orient": "horizontal", "size": 18, "thickness": 1, "color": "black"}, "encoding": {"y": {"aggregate": "mean", "field": "v", "type": "quantitative", "title": "Log₂(LnFI)"}}}
 ]},
 {"width": 65, "height": 95, "title": "CCL20", "transform": [{"filter": "datum.s=='S'&&datum.c=='CCL20'"}], "encoding": {"x": {"field": "g", "type": "nominal", "scale": {"type": "band", "domain": ["N","A"], "paddingInner": 0.2, "paddingOuter": 0.4}, "axis": {"title": null, "labelExpr": "datum.value=='N'?'Non-asthma':'Asthma'"}}, "y": {"field": "v", "type": "quantitative", "scale": {"domain": [2,3], "nice": false, "zero": false}, "axis": {"values": [2,2.5,3], "format": "~g", "title": "Log₂(LnFI)"}}}, "layer": [
  {"transform": [{"window": [{"op": "row_number", "as": "r"}], "groupby": ["g"], "sort": [{"field": "v", "order": "descending"}]}, {"calculate": "[0,-0.8,0.8,-0.4,0.4][(datum.r-1)%5]", "as": "jx"}], "mark": {"type": "circle", "stroke": "black", "strokeWidth": 0.8, "opacity": 1}, "encoding": {"xOffset": {"field": "jx", "type": "quantitative", "scale": {"domain": [-1,1]}}, "fill": {"condition": {"test": "datum.g=='A'", "value": "white"}, "value": "black"}, "size": {"condition": {"test": "datum.g=='A'", "value": 9}, "value": 5}}},
  {"mark": {"type": "errorbar", "extent": "stderr", "color": "black", "ticks": {"size": 8}}},
  {"mark": {"type": "tick", "orient": "horizontal", "size": 18, "thickness": 1, "color": "black"}, "encoding": {"y": {"aggregate": "mean", "field": "v", "type": "quantitative", "title": "Log₂(LnFI)"}}}
 ]},
 {"width": 65, "height": 95, "title": "CXCL10", "transform": [{"filter": "datum.s=='S'&&datum.c=='CXCL10'"}], "encoding": {"x": {"field": "g", "type": "nominal", "scale": {"type": "band", "domain": ["N","A"], "paddingInner": 0.2, "paddingOuter": 0.4}, "axis": {"title": null, "labelExpr": "datum.value=='N'?'Non-asthma':'Asthma'"}}, "y": {"field": "v", "type": "quantitative", "scale": {"domain": [2.5,3.5], "nice": false, "zero": false}, "axis": {"values": [2.5,3,3.5], "format": "~g", "title": "Log₂(LnFI)"}}}, "layer": [
  {"transform": [{"window": [{"op": "row_number", "as": "r"}], "groupby": ["g"], "sort": [{"field": "v", "order": "descending"}]}, {"calculate": "[0,-0.8,0.8,-0.4,0.4][(datum.r-1)%5]", "as": "jx"}], "mark": {"type": "circle", "stroke": "black", "strokeWidth": 0.8, "opacity": 1}, "encoding": {"xOffset": {"field": "jx", "type": "quantitative", "scale": {"domain": [-1,1]}}, "fill": {"condition": {"test": "datum.g=='A'", "value": "white"}, "value": "black"}, "size": {"condition": {"test": "datum.g=='A'", "value": 9}, "value": 5}}},
  {"mark": {"type": "errorbar", "extent": "stderr", "color": "black", "ticks": {"size": 8}}},
  {"mark": {"type": "tick", "orient": "horizontal", "size": 18, "thickness": 1, "color": "black"}, "encoding": {"y": {"aggregate": "mean", "field": "v", "type": "quantitative", "title": "Log₂(LnFI)"}}}
 ]},
 {"width": 65, "height": 95, "title": "IL-6", "transform": [{"filter": "datum.s=='S'&&datum.c=='IL-6'"}], "encoding": {"x": {"field": "g", "type": "nominal", "scale": {"type": "band", "domain": ["N","A"], "paddingInner": 0.2, "paddingOuter": 0.4}, "axis": {"title": null, "labelExpr": "datum.value=='N'?'Non-asthma':'Asthma'"}}, "y": {"field": "v", "type": "quantitative", "scale": {"domain": [1.5,3.5], "nice": false, "zero": false}, "axis": {"values": [1.5,2,2.5,3,3.5], "format": "~g", "title": "Log₂(LnFI)"}}}, "layer": [
  {"transform": [{"window": [{"op": "row_number", "as": "r"}], "groupby": ["g"], "sort": [{"field": "v", "order": "descending"}]}, {"calculate": "[0,-0.8,0.8,-0.4,0.4][(datum.r-1)%5]", "as": "jx"}], "mark": {"type": "circle", "stroke": "black", "strokeWidth": 0.8, "opacity": 1}, "encoding": {"xOffset": {"field": "jx", "type": "quantitative", "scale": {"domain": [-1,1]}}, "fill": {"condition": {"test": "datum.g=='A'", "value": "white"}, "value": "black"}, "size": {"condition": {"test": "datum.g=='A'", "value": 9}, "value": 5}}},
  {"mark": {"type": "errorbar", "extent": "stderr", "color": "black", "ticks": {"size": 8}}},
  {"mark": {"type": "tick", "orient": "horizontal", "size": 18, "thickness": 1, "color": "black"}, "encoding": {"y": {"aggregate": "mean", "field": "v", "type": "quantitative", "title": "Log₂(LnFI)"}}}
 ]},
 {"width": 65, "height": 95, "title": "IL-8", "transform": [{"filter": "datum.s=='S'&&datum.c=='IL-8'"}], "encoding": {"x": {"field": "g", "type": "nominal", "scale": {"type": "band", "domain": ["N","A"], "paddingInner": 0.2, "paddingOuter": 0.4}, "axis": {"title": null, "labelExpr": "datum.value=='N'?'Non-asthma':'Asthma'"}}, "y": {"field": "v", "type": "quantitative", "scale": {"domain": [1.55,3], "nice": false, "zero": false}, "axis": {"values": [2,2.5,3], "format": "~g", "title": "Log₂(LnFI)"}}}, "layer": [
  {"transform": [{"window": [{"op": "row_number", "as": "r"}], "groupby": ["g"], "sort": [{"field": "v", "order": "descending"}]}, {"calculate": "[0,-0.8,0.8,-0.4,0.4][(datum.r-1)%5]", "as": "jx"}], "mark": {"type": "circle", "stroke": "black", "strokeWidth": 0.8, "opacity": 1}, "encoding": {"xOffset": {"field": "jx", "type": "quantitative", "scale": {"domain": [-1,1]}}, "fill": {"condition": {"test": "datum.g=='N'", "value": "white"}, "value": "black"}, "size": {"condition": {"test": "datum.g=='N'", "value": 9}, "value": 5}}},
  {"mark": {"type": "errorbar", "extent": "stderr", "color": "black", "ticks": {"size": 8}}},
  {"mark": {"type": "tick", "orient": "horizontal", "size": 18, "thickness": 1, "color": "black"}, "encoding": {"y": {"aggregate": "mean", "field": "v", "type": "quantitative", "title": "Log₂(LnFI)"}}}
 ]},
 {"width": 65, "height": 95, "title": "S100A9", "transform": [{"filter": "datum.s=='S'&&datum.c=='S100A9'"}], "encoding": {"x": {"field": "g", "type": "nominal", "scale": {"type": "band", "domain": ["N","A"], "paddingInner": 0.2, "paddingOuter": 0.4}, "axis": {"title": null, "labelExpr": "datum.value=='N'?'Non-asthma':'Asthma'"}}, "y": {"field": "v", "type": "quantitative", "scale": {"domain": [1.5,3.5], "nice": false, "zero": false}, "axis": {"values": [1.5,2,2.5,3,3.5], "format": "~g", "title": "Log₂(LnFI)"}}}, "layer": [
  {"transform": [{"window": [{"op": "row_number", "as": "r"}], "groupby": ["g"], "sort": [{"field": "v", "order": "descending"}]}, {"calculate": "[0,-0.8,0.8,-0.4,0.4][(datum.r-1)%5]", "as": "jx"}], "mark": {"type": "circle", "stroke": "black", "strokeWidth": 0.8, "opacity": 1}, "encoding": {"xOffset": {"field": "jx", "type": "quantitative", "scale": {"domain": [-1,1]}}, "fill": {"condition": {"test": "datum.g=='A'", "value": "white"}, "value": "black"}, "size": {"condition": {"test": "datum.g=='A'", "value": 9}, "value": 5}}},
  {"mark": {"type": "errorbar", "extent": "stderr", "color": "black", "ticks": {"size": 8}}},
  {"mark": {"type": "tick", "orient": "horizontal", "size": 18, "thickness": 1, "color": "black"}, "encoding": {"y": {"aggregate": "mean", "field": "v", "type": "quantitative", "title": "Log₂(LnFI)"}}}
 ]},

 {"width": 50, "height": 96, "data": {"values": [{"t": "Mild\nCOVID-19"}]}, "mark": {"type": "text", "fontSize": 13, "fontWeight": "bold", "lineBreak": "\n", "lineHeight": 17, "dx": -12, "dy": -23}, "encoding": {"text": {"field": "t"}}},
 {"width": 65, "height": 96, "title": "CCL2", "transform": [{"filter": "datum.s=='M'&&datum.c=='CCL2'"}], "encoding": {"x": {"field": "g", "type": "nominal", "scale": {"type": "band", "domain": ["N","A"], "paddingInner": 0.2, "paddingOuter": 0.4}, "axis": {"title": null, "labelExpr": "datum.value=='N'?'Non-asthma':'Asthma'"}}, "y": {"field": "v", "type": "quantitative", "scale": {"domain": [1.5,3], "nice": false, "zero": false}, "axis": {"values": [1.5,2,2.5,3], "format": "~g", "title": "Log₂(LnFI)"}}}, "layer": [
  {"transform": [{"window": [{"op": "row_number", "as": "r"}], "groupby": ["g"], "sort": [{"field": "v", "order": "descending"}]}, {"calculate": "[0,-0.8,0.8,-0.4,0.4][(datum.r-1)%5]", "as": "jx"}], "mark": {"type": "circle", "stroke": "black", "strokeWidth": 0.8, "opacity": 1}, "encoding": {"xOffset": {"field": "jx", "type": "quantitative", "scale": {"domain": [-1,1]}}, "fill": {"condition": {"test": "datum.g=='A'", "value": "white"}, "value": "black"}, "size": {"condition": {"test": "datum.g=='A'", "value": 9}, "value": 5}}},
  {"mark": {"type": "errorbar", "extent": "stderr", "color": "black", "ticks": {"size": 8}}},
  {"mark": {"type": "tick", "orient": "horizontal", "size": 18, "thickness": 1, "color": "black"}, "encoding": {"y": {"aggregate": "mean", "field": "v", "type": "quantitative", "title": "Log₂(LnFI)"}}}
 ]},
 {"width": 65, "height": 96, "title": "CCL20", "transform": [{"filter": "datum.s=='M'&&datum.c=='CCL20'"}], "encoding": {"x": {"field": "g", "type": "nominal", "scale": {"type": "band", "domain": ["N","A"], "paddingInner": 0.2, "paddingOuter": 0.4}, "axis": {"title": null, "labelExpr": "datum.value=='N'?'Non-asthma':'Asthma'"}}, "y": {"field": "v", "type": "quantitative", "scale": {"domain": [2,3], "nice": false, "zero": false}, "axis": {"values": [2,2.5,3], "format": "~g", "title": "Log₂(LnFI)"}}}, "layer": [
  {"transform": [{"window": [{"op": "row_number", "as": "r"}], "groupby": ["g"], "sort": [{"field": "v", "order": "descending"}]}, {"calculate": "[0,-0.8,0.8,-0.4,0.4][(datum.r-1)%5]", "as": "jx"}], "mark": {"type": "circle", "stroke": "black", "strokeWidth": 0.8, "opacity": 1}, "encoding": {"xOffset": {"field": "jx", "type": "quantitative", "scale": {"domain": [-1,1]}}, "fill": {"condition": {"test": "datum.g=='A'", "value": "white"}, "value": "black"}, "size": {"condition": {"test": "datum.g=='A'", "value": 9}, "value": 5}}},
  {"mark": {"type": "errorbar", "extent": "stderr", "color": "black", "ticks": {"size": 8}}},
  {"mark": {"type": "tick", "orient": "horizontal", "size": 18, "thickness": 1, "color": "black"}, "encoding": {"y": {"aggregate": "mean", "field": "v", "type": "quantitative", "title": "Log₂(LnFI)"}}}
 ]},
 {"width": 65, "height": 96, "title": "CXCL10", "transform": [{"filter": "datum.s=='M'&&datum.c=='CXCL10'"}], "encoding": {"x": {"field": "g", "type": "nominal", "scale": {"type": "band", "domain": ["N","A"], "paddingInner": 0.2, "paddingOuter": 0.4}, "axis": {"title": null, "labelExpr": "datum.value=='N'?'Non-asthma':'Asthma'"}}, "y": {"field": "v", "type": "quantitative", "scale": {"domain": [2,4], "nice": false, "zero": false}, "axis": {"values": [2,2.5,3,3.5,4], "format": "~g", "title": "Log₂(LnFI)"}}}, "layer": [
  {"transform": [{"window": [{"op": "row_number", "as": "r"}], "groupby": ["g"], "sort": [{"field": "v", "order": "descending"}]}, {"calculate": "[0,-0.8,0.8,-0.4,0.4][(datum.r-1)%5]", "as": "jx"}], "mark": {"type": "circle", "stroke": "black", "strokeWidth": 0.8, "opacity": 1}, "encoding": {"xOffset": {"field": "jx", "type": "quantitative", "scale": {"domain": [-1,1]}}, "fill": {"condition": {"test": "datum.g=='A'", "value": "white"}, "value": "black"}, "size": {"condition": {"test": "datum.g=='A'", "value": 9}, "value": 5}}},
  {"mark": {"type": "errorbar", "extent": "stderr", "color": "black", "ticks": {"size": 8}}},
  {"mark": {"type": "tick", "orient": "horizontal", "size": 18, "thickness": 1, "color": "black"}, "encoding": {"y": {"aggregate": "mean", "field": "v", "type": "quantitative", "title": "Log₂(LnFI)"}}}
 ]},
 {"width": 65, "height": 96, "title": "IL-6", "transform": [{"filter": "datum.s=='M'&&datum.c=='IL-6'"}], "encoding": {"x": {"field": "g", "type": "nominal", "scale": {"type": "band", "domain": ["N","A"], "paddingInner": 0.2, "paddingOuter": 0.4}, "axis": {"title": null, "labelExpr": "datum.value=='N'?'Non-asthma':'Asthma'"}}, "y": {"field": "v", "type": "quantitative", "scale": {"domain": [1.5,3], "nice": false, "zero": false}, "axis": {"values": [1.5,2,2.5,3], "format": "~g", "title": "Log₂(LnFI)"}}}, "layer": [
  {"transform": [{"window": [{"op": "row_number", "as": "r"}], "groupby": ["g"], "sort": [{"field": "v", "order": "descending"}]}, {"calculate": "[0,-0.8,0.8,-0.4,0.4][(datum.r-1)%5]", "as": "jx"}], "mark": {"type": "circle", "stroke": "black", "strokeWidth": 0.8, "opacity": 1}, "encoding": {"xOffset": {"field": "jx", "type": "quantitative", "scale": {"domain": [-1,1]}}, "fill": {"condition": {"test": "datum.g=='A'", "value": "white"}, "value": "black"}, "size": {"condition": {"test": "datum.g=='A'", "value": 9}, "value": 5}}},
  {"mark": {"type": "errorbar", "extent": "stderr", "color": "black", "ticks": {"size": 8}}},
  {"mark": {"type": "tick", "orient": "horizontal", "size": 18, "thickness": 1, "color": "black"}, "encoding": {"y": {"aggregate": "mean", "field": "v", "type": "quantitative", "title": "Log₂(LnFI)"}}}
 ]},
 {"width": 65, "height": 96, "title": "IL-8", "transform": [{"filter": "datum.s=='M'&&datum.c=='IL-8'"}], "encoding": {"x": {"field": "g", "type": "nominal", "scale": {"type": "band", "domain": ["N","A"], "paddingInner": 0.2, "paddingOuter": 0.4}, "axis": {"title": null, "labelExpr": "datum.value=='N'?'Non-asthma':'Asthma'"}}, "y": {"field": "v", "type": "quantitative", "scale": {"domain": [1.5,3], "nice": false, "zero": false}, "axis": {"values": [2,2.5,3], "format": "~g", "title": "Log₂(LnFI)"}}}, "layer": [
  {"transform": [{"window": [{"op": "row_number", "as": "r"}], "groupby": ["g"], "sort": [{"field": "v", "order": "descending"}]}, {"calculate": "[0,-0.8,0.8,-0.4,0.4][(datum.r-1)%5]", "as": "jx"}], "mark": {"type": "circle", "stroke": "black", "strokeWidth": 0.8, "opacity": 1}, "encoding": {"xOffset": {"field": "jx", "type": "quantitative", "scale": {"domain": [-1,1]}}, "fill": {"condition": {"test": "datum.g=='A'", "value": "white"}, "value": "black"}, "size": {"condition": {"test": "datum.g=='A'", "value": 9}, "value": 5}}},
  {"mark": {"type": "errorbar", "extent": "stderr", "color": "black", "ticks": {"size": 8}}},
  {"mark": {"type": "tick", "orient": "horizontal", "size": 18, "thickness": 1, "color": "black"}, "encoding": {"y": {"aggregate": "mean", "field": "v", "type": "quantitative", "title": "Log₂(LnFI)"}}}
 ]},
 {"width": 65, "height": 96, "title": "S100A9", "transform": [{"filter": "datum.s=='M'&&datum.c=='S100A9'"}], "encoding": {"x": {"field": "g", "type": "nominal", "scale": {"type": "band", "domain": ["N","A"], "paddingInner": 0.2, "paddingOuter": 0.4}, "axis": {"title": null, "labelExpr": "datum.value=='N'?'Non-asthma':'Asthma'"}}, "y": {"field": "v", "type": "quantitative", "scale": {"domain": [2,3], "nice": false, "zero": false}, "axis": {"values": [2,2.5,3], "format": "~g", "title": "Log₂(LnFI)"}}}, "layer": [
  {"transform": [{"window": [{"op": "row_number", "as": "r"}], "groupby": ["g"], "sort": [{"field": "v", "order": "descending"}]}, {"calculate": "[0,-0.8,0.8,-0.4,0.4][(datum.r-1)%5]", "as": "jx"}], "mark": {"type": "circle", "stroke": "black", "strokeWidth": 0.8, "opacity": 1}, "encoding": {"xOffset": {"field": "jx", "type": "quantitative", "scale": {"domain": [-1,1]}}, "fill": {"condition": {"test": "datum.g=='A'", "value": "white"}, "value": "black"}, "size": {"condition": {"test": "datum.g=='A'", "value": 9}, "value": 5}}},
  {"mark": {"type": "errorbar", "extent": "stderr", "color": "black", "ticks": {"size": 8}}},
  {"mark": {"type": "tick", "orient": "horizontal", "size": 18, "thickness": 1, "color": "black"}, "encoding": {"y": {"aggregate": "mean", "field": "v", "type": "quantitative", "title": "Log₂(LnFI)"}}}
 ]}
]},
{"bounds": "flush", "spacing": 38, "resolve": {"scale": {"fill": "independent", "stroke": "independent"}, "legend": {"fill": "independent", "stroke": "independent"}}, "hconcat": [
 {"width": 50, "height": 196, "data": {"values": [{"t": "b"}]}, "mark": {"type": "text", "fontSize": 20, "fontWeight": "bold", "dx": 12.5, "dy": -98}, "encoding": {"text": {"field": "t"}}},
 {"width": 245, "height": 196, "data": {"name": "u"}, "mark": {"type": "circle", "size": 22, "strokeWidth": 1.1, "opacity": 1},
  "encoding": {
   "x": {"field": "x", "type": "quantitative", "scale": {"domain": [0, 24.5], "nice": false, "zero": false}, "axis": {"title": "UMAP - X", "labels": false, "ticks": false, "titleFontSize": 14, "titlePadding": 3, "titleX": 81}},
   "y": {"field": "y", "type": "quantitative", "scale": {"domain": [0, 19.6], "nice": false, "zero": false}, "axis": {"title": "UMAP - Y", "labels": false, "ticks": false, "titleFontSize": 14, "titlePadding": 4}},
   "stroke": {"field": "k", "type": "nominal", "scale": {"domain": ["CC","CC - asthma","CS","CS - asthma","CM","CM - asthma","HV"], "range": ["#E69F00","#E69F00","#56B4E9","#56B4E9","#009E73","#009E73","#F0E442"]}, "legend": {"title": null, "orient": "none", "legendX": 0, "legendY": -2, "padding": 0, "labelFontSize": 10.5, "labelColor": "black", "symbolSize": 22, "symbolStrokeWidth": 1.1, "rowPadding": 0, "labelOffset": 4, "symbolType": "circle"}},
   "fill": {"field": "k", "type": "nominal", "scale": {"domain": ["CC","CC - asthma","CS","CS - asthma","CM","CM - asthma","HV"], "range": ["#E69F00","white","#56B4E9","white","#009E73","white","#F0E442"]}, "legend": {"title": null, "orient": "none", "legendX": 0, "legendY": -2, "padding": 0, "labelFontSize": 10.5, "labelColor": "black", "symbolSize": 22, "symbolStrokeWidth": 1.1, "rowPadding": 0, "labelOffset": 4, "symbolType": "circle"}}
  }}
]}
],
"config": {
 "font": "Liberation Sans",
 "view": {"stroke": null},
 "axis": {"grid": false, "domainColor": "black", "tickColor": "black", "labelColor": "black", "titleColor": "black", "labelFont": "Liberation Sans", "titleFont": "Liberation Sans", "tickSize": 3, "labelFontSize": 9, "labelPadding": 1, "titleFontSize": 10, "titleFontWeight": "bold", "domainWidth": 1, "tickWidth": 1},
 "axisX": {"labelAngle": -45, "labelFontWeight": "bold", "labelFontSize": 8},
 "axisY": {"titlePadding": 5},
 "title": {"fontSize": 8, "fontWeight": "bold", "font": "Liberation Sans", "offset": 4, "color": "black"},
 "text": {"font": "Liberation Sans", "color": "black"},
 "legend": {"labelFont": "Liberation Sans"}
}
}
